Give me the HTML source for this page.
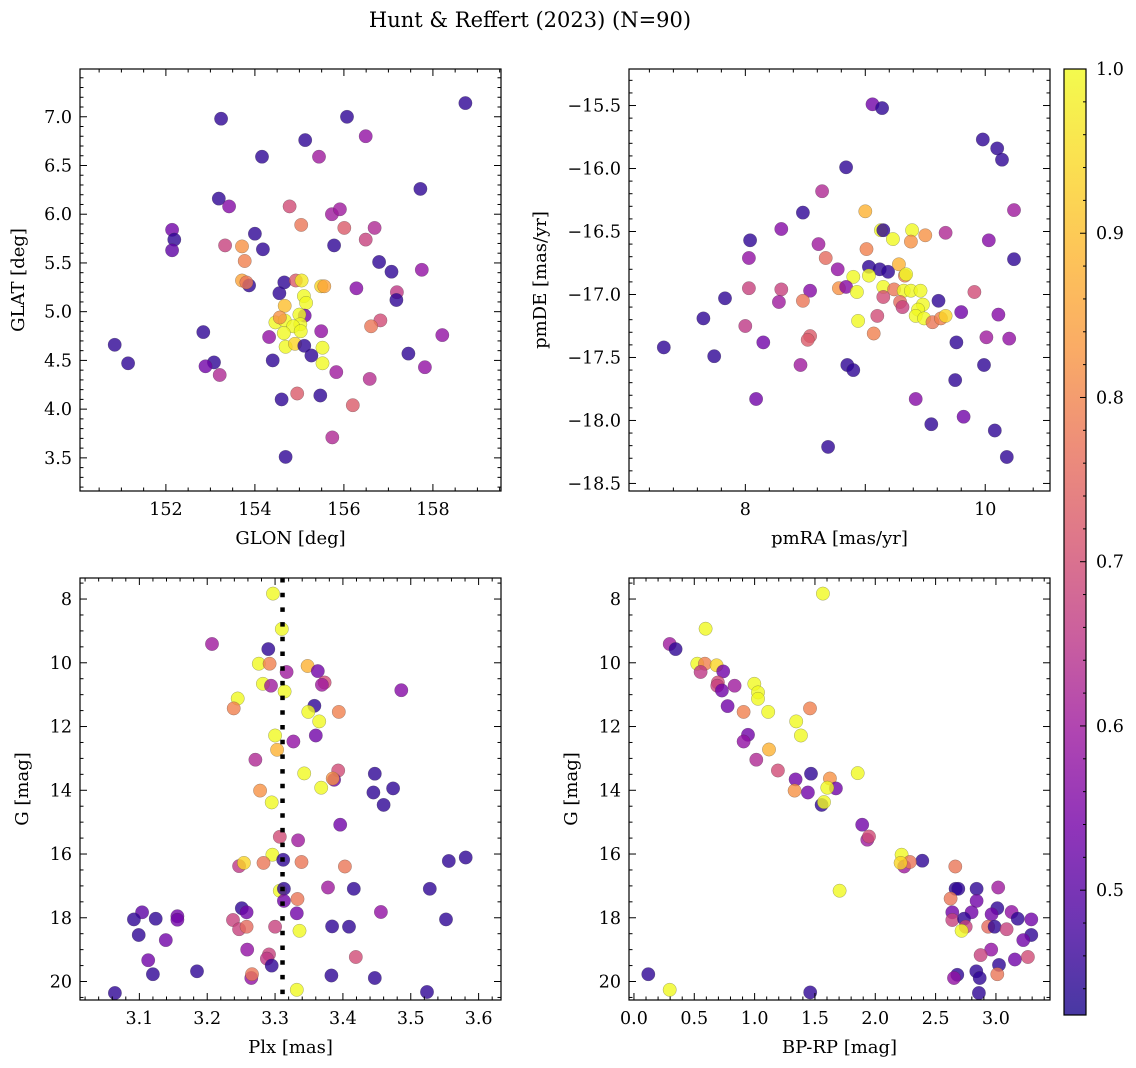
<!DOCTYPE html>
<html><head><meta charset="utf-8"><style>
html,body{margin:0;padding:0;background:#fff;}
svg{display:block;font-family:"DejaVu Serif","Liberation Serif",serif;}
</style></head><body>
<svg id="fig" width="1136" height="1068" viewBox="0 0 1136 1068" xmlns="http://www.w3.org/2000/svg">
<defs>
<linearGradient id="plasma" x1="0" y1="1" x2="0" y2="0">
<stop offset="0" stop-color="#1a068c"/><stop offset="0.1" stop-color="#4a03a0"/><stop offset="0.2" stop-color="#7502a8"/><stop offset="0.3" stop-color="#9c179e"/><stop offset="0.4" stop-color="#bd3786"/><stop offset="0.5" stop-color="#d5546e"/><stop offset="0.6" stop-color="#e97158"/><stop offset="0.7" stop-color="#f89540"/><stop offset="0.8" stop-color="#fdb42f"/><stop offset="0.9" stop-color="#fad824"/><stop offset="1" stop-color="#f0f921"/>
</linearGradient>
</defs>
<text x="530" y="27" font-size="21" text-anchor="middle">Hunt &amp; Reffert (2023) (N=90)</text>
</svg>
<script>
// Panel 1: GLON vs GLAT
const glon=[158.73,153.24,156.07,156.49,155.13,155.44,154.16,157.72,153.19,153.42,154.78,155.73,155.91,155.04,156.01,156.69,152.14,152.19,152.14,154.0,154.18,155.78,156.49,153.33,153.71,153.77,156.79,157.07,157.75,153.71,153.87,153.81,154.66,154.92,155.05,155.49,155.56,154.55,156.28,157.19,157.18,155.10,155.15,154.67,155.12,155.0,155.02,154.46,154.67,154.56,154.86,154.65,155.03,155.49,154.32,152.84,150.85,151.15,154.69,154.90,155.11,155.27,155.52,155.52,154.40,156.82,156.61,157.45,158.21,157.82,155.83,156.58,153.08,152.89,153.21,154.95,154.60,155.47,156.20,155.74,154.69];
const glat=[7.14,6.98,7.00,6.80,6.76,6.59,6.59,6.26,6.16,6.08,6.08,6.00,6.05,5.89,5.86,5.86,5.84,5.74,5.63,5.80,5.64,5.68,5.74,5.68,5.67,5.52,5.51,5.41,5.43,5.32,5.27,5.30,5.30,5.32,5.32,5.26,5.26,5.19,5.24,5.20,5.12,5.16,5.09,5.06,4.96,4.97,4.87,4.89,4.91,4.94,4.85,4.78,4.80,4.80,4.74,4.79,4.66,4.47,4.64,4.67,4.65,4.55,4.63,4.47,4.50,4.91,4.85,4.57,4.76,4.43,4.38,4.31,4.48,4.44,4.35,4.16,4.10,4.14,4.04,3.71,3.51];
const prob1=[.46,.46,.46,.6,.46,.62,.46,.46,.46,.58,.72,.62,.62,.8,.75,.65,.55,.46,.52,.46,.46,.46,.7,.7,.85,.82,.46,.46,.6,.88,.46,.8,.46,.75,.98,.95,.88,.46,.58,.68,.46,1,1,.92,.55,1,1,1,1,.85,1,1,1,.6,.6,.46,.46,.46,1,.95,.46,.46,1,1,.46,.72,.8,.46,.6,.6,.62,.66,.46,.55,.65,.75,.46,.46,.75,.65,.46];
// Panel 2: pmRA vs pmDE
const pmra=[9.06,9.14,9.98,10.10,10.14,8.84,8.64,8.48,9.0,10.24,8.30,8.04,9.13,9.15,9.23,9.39,9.38,9.50,9.67,10.03,10.24,8.03,8.61,8.67,9.01,8.77,9.03,9.12,9.19,9.28,9.33,9.34,8.90,9.03,8.78,8.84,8.93,9.15,9.24,9.15,9.32,9.38,9.46,9.29,9.31,9.48,9.44,9.42,9.49,9.56,9.63,9.67,9.61,9.91,9.80,10.11,7.83,8.03,8.30,8.54,8.28,8.48,7.65,8.0,8.94,9.10,9.07,7.74,7.32,8.15,8.54,8.52,9.76,10.01,10.20,8.46,8.85,8.90,9.99,9.75,8.09,9.42,9.82,9.55,10.08,8.69,10.18];
const pmde=[-15.49,-15.52,-15.77,-15.84,-15.93,-15.99,-16.18,-16.35,-16.34,-16.33,-16.48,-16.57,-16.49,-16.49,-16.56,-16.49,-16.58,-16.53,-16.51,-16.57,-16.72,-16.71,-16.60,-16.71,-16.64,-16.80,-16.78,-16.80,-16.82,-16.76,-16.85,-16.84,-16.86,-16.85,-16.95,-16.94,-16.98,-16.94,-16.96,-17.02,-16.97,-16.97,-16.97,-17.06,-17.10,-17.08,-17.12,-17.17,-17.19,-17.22,-17.19,-17.17,-17.05,-16.98,-17.14,-17.16,-17.03,-16.95,-16.96,-16.97,-17.06,-17.05,-17.19,-17.25,-17.21,-17.17,-17.31,-17.49,-17.42,-17.38,-17.33,-17.36,-17.38,-17.34,-17.35,-17.56,-17.56,-17.60,-17.56,-17.68,-17.83,-17.83,-17.97,-18.03,-18.08,-18.21,-18.29];
const prob2=[.55,.46,.46,.46,.46,.46,.65,.46,.9,.62,.58,.46,1,.46,1,1,.85,.85,.65,.58,.46,.6,.62,.78,.82,.6,.46,.46,.46,.9,.82,1,1,1,.85,.58,1,1,.8,.72,1,1,1,.78,.7,1,1,1,1,.8,.82,.95,.46,.72,.55,.58,.46,.7,.7,.58,.62,.8,.46,.68,1,.72,.82,.46,.46,.55,.75,.75,.46,.62,.6,.62,.46,.46,.46,.46,.55,.58,.55,.46,.46,.46,.46];
// Panel 3: Plx vs G
const plx=[3.297,3.310,3.207,3.290,3.276,3.292,3.317,3.348,3.363,3.373,3.369,3.282,3.294,3.314,3.486,3.245,3.239,3.358,3.349,3.394,3.365,3.300,3.360,3.327,3.303,3.271,3.343,3.393,3.387,3.385,3.447,3.474,3.445,3.460,3.368,3.278,3.295,3.396,3.307,3.334,3.296,3.312,3.339,3.283,3.247,3.254,3.403,3.556,3.581,3.307,3.313,3.378,3.416,3.528,3.333,3.313,3.251,3.258,3.332,3.456,3.104,3.092,3.124,3.156,3.156,3.238,3.247,3.258,3.300,3.384,3.409,3.552,3.336,3.099,3.139,3.259,3.291,3.288,3.295,3.419,3.113,3.120,3.185,3.265,3.266,3.383,3.447,3.332,3.064,3.524];
const gmag3=[7.83,8.94,9.41,9.57,10.03,10.03,10.29,10.10,10.26,10.62,10.69,10.66,10.72,10.90,10.86,11.12,11.43,11.35,11.54,11.54,11.84,12.28,12.28,12.47,12.73,13.04,13.47,13.38,13.67,13.63,13.48,13.94,14.07,14.46,13.92,14.01,14.38,15.08,15.46,15.57,16.02,16.18,16.25,16.28,16.38,16.28,16.39,16.22,16.11,17.15,17.09,17.05,17.09,17.09,17.41,17.47,17.70,17.83,17.86,17.82,17.83,18.05,18.03,17.95,18.06,18.07,18.36,18.28,18.28,18.27,18.28,18.05,18.41,18.54,18.70,19.00,19.15,19.28,19.50,19.23,19.33,19.77,19.68,19.89,19.77,19.81,19.89,20.26,20.36,20.33];
const prob3=[1,1,.62,.46,1,.82,.62,.9,.55,.72,.62,1,.62,1,.58,1,.82,.46,1,.82,1,1,.55,.6,.9,.65,1,.72,.55,.85,.46,.46,.46,.46,1,.85,1,.55,.72,.62,1,.46,.8,.8,.68,.95,.8,.46,.46,1,.46,.62,.46,.46,.8,.55,.46,.55,.55,.6,.52,.46,.46,.55,.55,.7,.7,.78,.7,.46,.46,.46,1,.46,.55,.6,.7,.68,.46,.72,.55,.46,.46,.6,.8,.46,.46,1,.46,.46];
const plxRef=[3.311];
// Panel 4: BP-RP vs G
const bprp=[1.566,0.594,0.296,0.345,0.525,0.588,0.685,0.552,0.740,0.696,0.691,0.729,0.834,0.997,1.028,1.028,0.776,0.909,1.113,1.459,1.345,1.384,0.945,0.909,1.119,1.014,1.193,1.854,1.467,1.340,1.624,1.331,1.442,1.674,1.602,1.555,1.575,1.892,1.934,1.948,2.218,2.390,2.240,2.287,2.210,2.663,1.704,2.666,2.688,2.840,3.019,2.624,2.840,3.011,2.638,2.798,2.964,3.130,3.180,3.293,2.638,2.735,2.749,2.715,2.936,2.989,3.088,3.293,3.227,2.961,2.873,3.025,3.157,3.265,2.680,2.652,2.837,2.865,3.011,2.859,0.119,0.296,1.461];
const gmag4=[7.83,8.93,9.41,9.57,10.03,10.03,10.08,10.29,10.27,10.62,10.72,10.87,10.72,10.66,10.93,11.13,11.36,11.54,11.54,11.43,11.84,12.28,12.26,12.47,12.72,13.04,13.38,13.46,13.48,13.66,13.63,14.01,14.07,13.94,13.92,14.46,14.37,15.08,15.55,15.45,16.02,16.21,16.39,16.25,16.28,16.39,17.15,17.09,17.09,17.09,17.05,17.40,17.47,17.70,17.83,17.83,17.89,17.82,18.03,18.05,18.07,18.03,18.28,18.41,18.28,18.28,18.36,18.54,18.70,19.00,19.17,19.48,19.31,19.23,19.79,19.89,19.68,19.89,19.77,20.36,19.77,20.26,20.34];
const prob4=[1,1,.62,.46,1,.82,.95,.68,.55,.72,.7,.55,.62,1,1,1,.55,.82,1,.82,1,1,.55,.6,.9,.65,.72,1,.46,.55,.85,.85,.55,.55,1,.46,1,.55,.62,.72,1,.46,.62,.8,.95,.8,1,.46,.46,.46,.62,.8,.55,.46,.55,.55,.55,.6,.46,.55,.7,.46,.7,1,.78,.46,.7,.46,.55,.6,.7,.46,.55,.72,.46,.6,.46,.46,.8,.46,.46,1,.46];
const cbTicks=[0.5,0.6,0.7,0.8,0.9,1.0];

const NS="http://www.w3.org/2000/svg";
const svg=document.getElementById('fig');
const VMIN=0.424,VMAX=1.0;
const stops=[[13,8,135],[65,4,157],[106,0,168],[143,13,164],[177,42,144],[204,71,120],[225,100,98],[242,132,75],[252,166,54],[252,206,37],[240,249,33]];
function plasma(v){let t=(v-VMIN)/(VMAX-VMIN);t=Math.max(0,Math.min(1,t));const f=t*10;const i=Math.min(9,Math.floor(f));const r=f-i;const a=stops[i],b=stops[i+1];return 'rgb('+[0,1,2].map(k=>Math.round(a[k]+(b[k]-a[k])*r)).join(',')+')';}
function mk(tag,attrs,parent){const e=document.createElementNS(NS,tag);for(const k in attrs)e.setAttribute(k,attrs[k]);(parent||svg).appendChild(e);return e;}
function fmt(v,d){const s=Math.abs(v).toFixed(d);return (v<0?'\u2212':'')+s;}

function panel(o){
  const g=mk('g',{});
  
  
  const sx=v=>o.x0+(v-o.xmin)/(o.xmax-o.xmin)*(o.x1-o.x0);
  const sy=o.yinv?(v=>o.y0+(v-o.ymin)/(o.ymax-o.ymin)*(o.y1-o.y0)):(v=>o.y1-(v-o.ymin)/(o.ymax-o.ymin)*(o.y1-o.y0));
  const pts=mk('g',{},g);
  
  
  for(let i=0;i<Math.min(o.xs.length,o.ys.length);i++){
    const c=mk('circle',{cx:sx(o.xs[i]).toFixed(1),cy:sy(o.ys[i]).toFixed(1),r:6.7,fill:plasma(o.cs[i]),'fill-opacity':0.8,stroke:'rgba(60,60,60,0.45)','stroke-width':0.5},pts);
    
    
  }
  if(o.vline){for(const v of o.vline){const l=mk('line',{x1:sx(v),x2:sx(v),y1:o.y0,y2:o.y1,stroke:'#000','stroke-width':4.5,'stroke-dasharray':'4.5 10.2'},g);
    
    }}
  const fr=mk('rect',{x:o.x0,y:o.y0,width:o.x1-o.x0,height:o.y1-o.y0,fill:'none',stroke:'#000','stroke-width':1.2},g);
  
  
  const tk=mk('g',{stroke:'#000','stroke-width':1},g);
  
  
  const eps=1e-6;
  for(let v=Math.ceil(o.xmin/o.xminor-eps)*o.xminor;v<=o.xmax+eps;v+=o.xminor){
    const isMaj=Math.abs(v/o.xmajor-Math.round(v/o.xmajor))<1e-4;const L=isMaj?7:3.5;const X=sx(v);
    mk('line',{x1:X,x2:X,y1:o.y1,y2:o.y1-L},tk);mk('line',{x1:X,x2:X,y1:o.y0,y2:o.y0+L},tk);
  }
  for(const v of o.xlabels){const t=mk('text',{x:sx(v),y:o.y1+24,'font-size':17.5,'text-anchor':'middle'},g);t.textContent=fmt(v,o.xd);
    
    }
  for(let v=Math.ceil(o.ymin/o.yminor-eps)*o.yminor;v<=o.ymax+eps;v+=o.yminor){
    const isMaj=Math.abs(v/o.ymajor-Math.round(v/o.ymajor))<1e-4;const L=isMaj?7:3.5;const Y=sy(v);
    mk('line',{x1:o.x0,x2:o.x0+L,y1:Y,y2:Y},tk);mk('line',{x1:o.x1,x2:o.x1-L,y1:Y,y2:Y},tk);
  }
  for(const v of o.ylabels){const t=mk('text',{x:o.x0-8,y:sy(v)+6,'font-size':17.5,'text-anchor':'end'},g);t.textContent=fmt(v,o.yd);
    
    }
  const xt=mk('text',{x:(o.x0+o.x1)/2,y:o.y1+53,'font-size':18,'text-anchor':'middle'},g);xt.textContent=o.xlab;
  
  
  const yc=(o.y0+o.y1)/2;const yt=mk('text',{x:o.ylx,y:yc,'font-size':18,'text-anchor':'middle',transform:'rotate(-90 '+o.ylx+' '+yc+')'},g);yt.textContent=o.ylab;
  
  
}
function rng(a,b,s){const r=[];for(let v=a;v<=b+1e-9;v+=s)r.push(Math.round(v*1000)/1000);return r;}

panel({name:'glon-glat-panel',x0:80,x1:501,y0:69,y1:491,xmin:150.07,xmax:159.53,ymin:3.16,ymax:7.49,xs:glon,ys:glat,cs:prob1,
 xmajor:2,xminor:0.5,ymajor:0.5,yminor:0.1,xlabels:rng(152,158,2),xd:0,ylabels:rng(3.5,7.0,0.5),yd:1,xlab:'GLON [deg]',ylab:'GLAT [deg]',ylx:24});
panel({name:'proper-motion-panel',x0:629,x1:1050,y0:69,y1:491,xmin:7.03,xmax:10.54,ymin:-18.56,ymax:-15.21,xs:pmra,ys:pmde,cs:prob2,
 xmajor:1,xminor:0.2,ymajor:0.5,yminor:0.1,xlabels:[8,10],xd:0,ylabels:rng(-18.5,-15.5,0.5),yd:1,xlab:'pmRA [mas/yr]',ylab:'pmDE [mas/yr]',ylx:546});
panel({name:'parallax-magnitude-panel',x0:80,x1:501,y0:578,y1:1000,xmin:3.0125,xmax:3.633,ymin:7.34,ymax:20.58,yinv:true,xs:plx,ys:gmag3,cs:prob3,vline:plxRef,
 xmajor:0.1,xminor:0.02,ymajor:2,yminor:0.5,xlabels:rng(3.1,3.6,0.1),xd:1,ylabels:rng(8,20,2),yd:0,xlab:'Plx [mas]',ylab:'G [mag]',ylx:28});
panel({name:'color-magnitude-panel',x0:629,x1:1050,y0:578,y1:1000,xmin:-0.041,xmax:3.448,ymin:7.34,ymax:20.58,yinv:true,xs:bprp,ys:gmag4,cs:prob4,
 xmajor:0.5,xminor:0.1,ymajor:2,yminor:0.5,xlabels:rng(0,3,0.5),xd:1,ylabels:rng(8,20,2),yd:0,xlab:'BP-RP [mag]',ylab:'G [mag]',ylx:577});

const cb=mk('g',{});


const cx0=1064,cx1=1086,cy0=69,cy1=1015;
const cy=v=>cy1-(v-VMIN)/(VMAX-VMIN)*(cy1-cy0);
mk('rect',{x:cx0,y:cy0,width:cx1-cx0,height:cy1-cy0,fill:'url(#plasma)','fill-opacity':0.8},cb);
mk('rect',{x:cx0,y:cy0,width:cx1-cx0,height:cy1-cy0,fill:'none',stroke:'#000','stroke-width':1.2},cb);
for(let v=0.44;v<=1.0001;v+=0.02){const Y=cy(v);const maj=Math.abs(v*10-Math.round(v*10))<1e-4;mk('line',{x1:cx1,x2:cx1-(maj?6:3),y1:Y,y2:Y,stroke:'#000','stroke-width':1},cb);}
for(const v of cbTicks){const t=mk('text',{x:1096,y:cy(v)+6,'font-size':17.5},cb);t.textContent=v.toFixed(1);
  
  }
</script>
</body></html>
